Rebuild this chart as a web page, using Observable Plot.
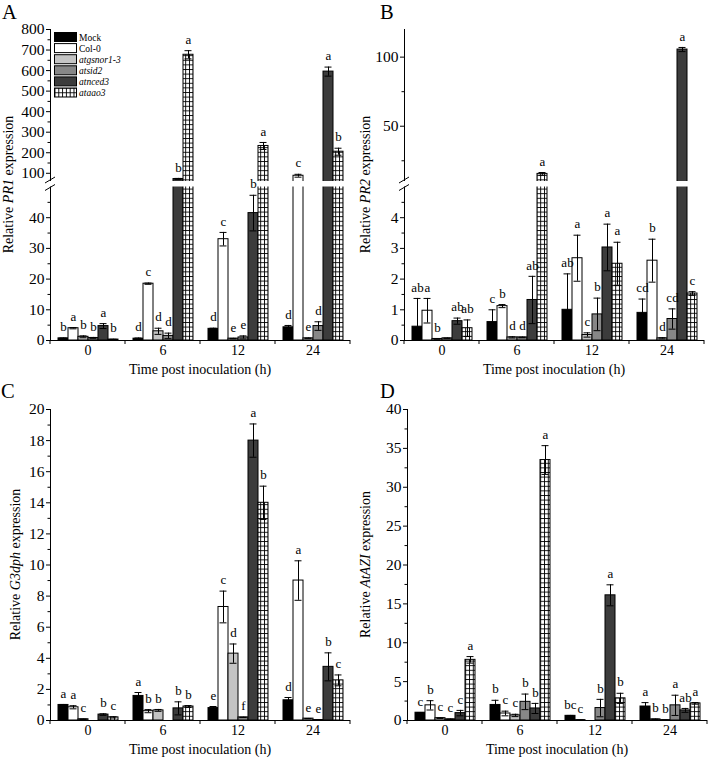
<!DOCTYPE html>
<html>
<head>
<meta charset="utf-8">
<script src="https://cdn.jsdelivr.net/npm/d3@7"></script>
<script src="https://cdn.jsdelivr.net/npm/@observablehq/plot@0.6"></script>
<style>
  body { margin: 0; background: #fff; font-family: "Liberation Serif", "Times New Roman", serif; }
  #fig { position: relative; width: 709px; height: 759px; background: #fff; }
  .panel { position: absolute; }
</style>
</head>
<body>
<div id="fig"></div>
<script>
// ---------- data ----------
const times = ["0", "6", "12", "24"];
const genotypes = ["Mock", "Col-0", "atgsnor1-3", "atsid2", "atnced3", "ataao3"];
const fills = ["#000000", "#ffffff", "#c4c4c4", "#878787", "#3c3c3c", "url(#grid)"];

// PR1 (rows = time, cols = genotype)
const pr1Mean = [
  [0.7, 4.0, 1.2, 0.8, 4.7, 0.3],
  [0.6, 18.5, 3.0, 1.5, 72, 677],
  [3.8, 33, 0.6, 1.0, 41.5, 233],
  [4.3, 88, 0.7, 4.7, 595, 205]
];
const pr1Err = [
  [0.1, 0.2, 0.3, 0.2, 0.8, 0.1],
  [0.2, 0.2, 1.0, 0.9, 3, 20],
  [0.2, 2.2, 0.1, 0.5, 5.8, 17],
  [0.6, 7, 0.1, 1.4, 22, 17]
];
const pr1Letters = [
  ["b", "a", "b", "b", "a", "b"],
  ["d", "c", "d", "d", "b", "a"],
  ["d", "c", "e", "e", "b", "a"],
  ["d", "c", "e", "d", "a", "b"]
];

// PR2
const pr2Mean = [
  [0.45, 0.97, 0.05, 0.07, 0.63, 0.4],
  [0.6, 1.12, 0.1, 0.1, 1.32, 15.5],
  [1.0, 2.68, 0.18, 0.85, 3.03, 2.5],
  [0.9, 2.6, 0.07, 0.7, 105.5, 1.53]
];
const pr2Err = [
  [0.92, 0.4, 0.01, 0.01, 0.1, 0.27],
  [0.4, 0.05, 0.02, 0.01, 0.77, 1.0],
  [1.17, 0.75, 0.07, 0.53, 0.76, 0.7],
  [0.45, 0.7, 0.02, 0.33, 1.5, 0.06]
];
const pr2Letters = [
  ["ab", "a", "b", "", "ab", "ab"],
  ["c", "b", "d", "d", "ab", "a"],
  ["ab", "a", "c", "b", "a", "a"],
  ["cd", "b", "d", "cd", "a", "c"]
];

// G3dph
const g3Mean = [
  [1.0, 0.85, 0.08, 0.0, 0.38, 0.2],
  [1.58, 0.6, 0.65, 0.0, 0.78, 0.9],
  [0.8, 7.3, 4.3, 0.2, 18.0, 14.0],
  [1.3, 9.0, 0.12, 0.03, 3.45, 2.58]
];
const g3Err = [
  [0.03, 0.1, 0.01, 0, 0.05, 0.04],
  [0.22, 0.1, 0.06, 0, 0.42, 0.06],
  [0.1, 1.02, 0.62, 0.01, 1.07, 1.07],
  [0.18, 1.27, 0.01, 0.01, 0.9, 0.35]
];
const g3Letters = [
  ["a", "a", "c", "", "b", "c"],
  ["a", "b", "b", "", "b", "b"],
  ["e", "c", "d", "f", "a", "b"],
  ["d", "a", "e", "e", "b", "c"]
];

// AtAZI
const aziMean = [
  [1.0, 1.95, 0.3, 0.15, 0.95, 7.8],
  [2.0, 0.9, 0.65, 2.4, 1.55, 33.5],
  [0.6, 0.05, 0, 1.6, 16.1, 2.85],
  [1.8, 0.15, 0.05, 1.95, 1.3, 2.2]
];
const aziErr = [
  [0.03, 0.6, 0.05, 0.03, 0.35, 0.42],
  [0.6, 0.3, 0.15, 1.0, 0.65, 1.85],
  [0.05, 0.01, 0, 1.12, 1.35, 0.65],
  [0.5, 0.03, 0.01, 1.3, 0.25, 0.1]
];
const aziLetters = [
  ["c", "b", "c", "c", "c", "a"],
  ["b", "c", "c", "b", "b", "a"],
  ["bc", "c", "", "b", "a", "b"],
  ["a", "b", "b", "a", "ab", "a"]
];

// axis ticks
const pr1Major = [0, 10, 20, 30, 40, 100, 200, 300, 400, 500, 600, 700, 800];
const pr1Minor = [5, 15, 25, 35, 45, 150, 250, 350, 450, 550, 650, 750];
const pr2Major = [0, 1, 2, 3, 4, 50, 100];
const pr2Minor = [0.5, 1.5, 2.5, 3.5, 4.5, 25, 75];
const g3Major = [0, 2, 4, 6, 8, 10, 12, 14, 16, 18, 20];
const g3Minor = [1, 3, 5, 7, 9, 11, 13, 15, 17, 19];
const aziMajor = [0, 5, 10, 15, 20, 25, 30, 35, 40];
const aziMinor = [2.5, 7.5, 12.5, 17.5, 22.5, 27.5, 32.5, 37.5];

// broken-axis segments: value breakpoints and their share of the axis
const pr1Breaks = [0, 50, 60, 800];
const pr2Breaks = [0, 5, 10, 120];
const breakShares = [0, 153.5, 159, 311];

// ---------- pattern defs ----------
const defsSvg = d3.select("body").append("svg")
  .attr("width", 0).attr("height", 0)
  .style("position", "absolute").style("left", 0).style("top", 0);
const pat = defsSvg.append("defs").append("pattern")
  .attr("id", "grid").attr("patternUnits", "userSpaceOnUse")
  .attr("width", 3.8).attr("height", 4.6);
pat.append("rect").attr("width", 3.8).attr("height", 4.6).attr("fill", "#fff");
pat.append("path").attr("d", "M0.5,0V4.6M0,0.5H3.8")
  .attr("stroke", "#000").attr("stroke-width", 0.9).attr("fill", "none");

const FONT = '"Liberation Serif", "Times New Roman", serif';
const PLOT_W = 300;

function makePanel(cfg) {
  const rows = [];
  times.forEach((t, i) => genotypes.forEach((g, j) => rows.push({
    time: t, g, v: cfg.mean[i][j], e: cfg.err[i][j], lab: cfg.letters[i][j]
  })));
  const withErr = rows.filter(d => d.e > 0);
  const marginRight = cfg.width - cfg.marginLeft - PLOT_W;

  const tf = cfg.breaks ? d3.scaleLinear().domain(cfg.breaks).range(breakShares) : null;
  const yOpts = cfg.breaks
    ? {domain: [0, breakShares[breakShares.length - 1]], range: [340, 29], transform: tf, axis: null}
    : {domain: cfg.yDomain, range: [340, 29], axis: null};

  // axis marks take tick positions in the scale's (transformed) space
  const toAxis = v => (tf ? tf(v) : v);
  const majorPos = cfg.major.map(toAxis);
  const minorPos = cfg.minor.map(toAxis);
  const labelOf = new Map(majorPos.map((p, i) => [p, String(cfg.major[i])]));

  const marks = [
    Plot.barY(rows, {fx: "time", x: "g", y: "v", fill: "g", stroke: "#000", strokeWidth: 1}),
    Plot.ruleX(withErr, {fx: "time", x: "g", y1: d => Math.max(0, d.v - d.e), y2: d => d.v + d.e, stroke: "#000", strokeWidth: 1}),
    Plot.tickY(withErr, {fx: "time", x: "g", y: d => d.v + d.e, insetLeft: 1.5, insetRight: 1.5, stroke: "#000", strokeWidth: 1}),
    Plot.tickY(withErr.filter(d => d.v - d.e > 0), {fx: "time", x: "g", y: d => d.v - d.e, insetLeft: 1.5, insetRight: 1.5, stroke: "#000", strokeWidth: 1}),
    Plot.frame({anchor: "left", facetAnchor: "left", stroke: "#000"})
  ];
  if (cfg.breaks) {
    marks.push(Plot.rect([[cfg.breaks[1], cfg.breaks[2]]], {y1: d => d[0], y2: d => d[1], fill: "#fff"}));
  }
  marks.push(
    Plot.ruleY([0], {stroke: "#000"}),
    Plot.text(rows.filter(d => d.lab), {fx: "time", x: "g", y: d => d.v + d.e, text: "lab", dy: -11, fontSize: 13, fill: "#000"}),
    Plot.axisY({ticks: majorPos, tickSize: 4, tickPadding: 2, label: null, fontSize: 15.5, tickFormat: p => labelOf.get(p) ?? ""}),
    Plot.axisY({ticks: minorPos, tickSize: 2.5, label: null, tickFormat: () => ""})
  );

  const plot = Plot.plot({
    width: cfg.width, height: 380,
    marginLeft: cfg.marginLeft, marginRight, marginTop: 29, marginBottom: 40,
    style: {fontFamily: FONT, fontSize: "14px", color: "#000", background: "transparent", overflow: "visible"},
    fx: {domain: times, padding: 0, axis: "bottom", tickSize: 0, tickPadding: 5, label: null, fontSize: 15.5},
    x: {domain: genotypes, paddingInner: 0, paddingOuter: 0.75, axis: null},
    y: yOpts,
    color: {domain: genotypes, range: fills},
    marks
  });

  const svg = d3.select(plot);
  const yScale = plot.scale("y");
  const ypx = v => yScale.apply(toAxis(v));
  const yBottom = ypx(0);
  const yMid = (yBottom + 29) / 2;

  // boundary ticks on the time axis
  for (let k = 0; k <= times.length; k++) {
    const x = cfg.marginLeft + k * PLOT_W / times.length;
    svg.append("line").attr("x1", x).attr("x2", x).attr("y1", yBottom).attr("y2", yBottom + 4)
      .attr("stroke", "#000");
  }

  // axis break symbol
  if (cfg.breaks) {
    const yTop = ypx(cfg.breaks[2]);
    const yBot = ypx(cfg.breaks[1]);
    const ax = cfg.marginLeft;
    [yTop - 1, yBot + 1].forEach(yy => {
      svg.append("line")
        .attr("x1", ax - 5).attr("y1", yy + 3)
        .attr("x2", ax + 5).attr("y2", yy - 3)
        .attr("stroke", "#000").attr("stroke-width", 1);
    });
  }

  // x title
  svg.append("text")
    .attr("x", cfg.marginLeft + PLOT_W / 2).attr("y", 374)
    .attr("text-anchor", "middle").attr("font-size", 14).attr("fill", "#000")
    .text("Time post inoculation (h)");

  // y title
  const yt = svg.append("text")
    .attr("transform", `translate(${cfg.titleX},${yMid}) rotate(-90)`)
    .attr("text-anchor", "middle").attr("font-size", 14).attr("fill", "#000");
  yt.append("tspan").text("Relative ");
  yt.append("tspan").attr("font-style", "italic").text(cfg.gene);
  yt.append("tspan").text(" expression");

  // panel letter
  svg.append("text").attr("x", cfg.letterX).attr("y", cfg.letterY)
    .attr("text-anchor", "start")
    .attr("font-size", 20.5).attr("fill", "#000").text(cfg.letter);

  // legend
  if (cfg.legend) {
    const lg = svg.append("g").attr("transform", "translate(54.5,32.5)");
    genotypes.forEach((g, i) => {
      lg.append("rect").attr("x", 0).attr("y", i * 11.1).attr("width", 22).attr("height", 9)
        .attr("fill", fills[i]).attr("stroke", "#000").attr("stroke-width", 1);
      lg.append("text").attr("x", 24.5).attr("y", i * 11.1 + 8)
        .attr("text-anchor", "start")
        .attr("font-size", 9.5).attr("fill", "#000")
        .attr("font-style", i > 1 ? "italic" : null)
        .text(g);
    });
  }

  const holder = document.createElement("div");
  holder.className = "panel";
  holder.style.left = cfg.left + "px";
  holder.style.top = cfg.top + "px";
  holder.appendChild(plot);
  document.getElementById("fig").appendChild(holder);
}

makePanel({
  mean: pr1Mean, err: pr1Err, letters: pr1Letters, breaks: pr1Breaks,
  major: pr1Major, minor: pr1Minor,
  width: 355, marginLeft: 50, left: 0, top: 0,
  gene: "PR1", titleX: 13, letter: "A", letterX: 2, letterY: 18.5, legend: true
});
makePanel({
  mean: pr2Mean, err: pr2Err, letters: pr2Letters, breaks: pr2Breaks,
  major: pr2Major, minor: pr2Minor,
  width: 354, marginLeft: 49, left: 355, top: 0,
  gene: "PR2", titleX: 15, letter: "B", letterX: 25, letterY: 18.5
});
makePanel({
  mean: g3Mean, err: g3Err, letters: g3Letters, yDomain: [0, 20],
  major: g3Major, minor: g3Minor,
  width: 355, marginLeft: 50, left: 0, top: 380,
  gene: "G3dph", titleX: 20, letter: "C", letterX: 1, letterY: 17.5
});
makePanel({
  mean: aziMean, err: aziErr, letters: aziLetters, yDomain: [0, 40],
  major: aziMajor, minor: aziMinor,
  width: 354, marginLeft: 52, left: 355, top: 380,
  gene: "AtAZI", titleX: 15, letter: "D", letterX: 25, letterY: 17.5
});
</script>
</body>
</html>
